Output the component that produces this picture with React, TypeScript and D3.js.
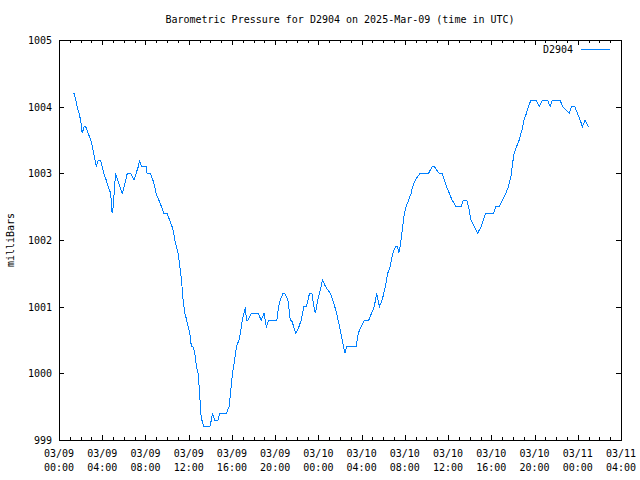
import React from "react";
import * as d3 from "d3";

const TITLE = "Barometric Pressure for D2904 on 2025-Mar-09 (time in UTC)";
const SERIES = "D2904";
const Y_LABEL = "milliBars";
const START = "2025-03-09T00:00:00Z";
const END = "2025-03-11T04:00:00Z";
const Y_TICKS = [999, 1000, 1001, 1002, 1003, 1004, 1005];

// minutes after 2025-03-09 00:00 UTC
const minutes = [
  83, 93, 101, 111, 120, 129, 139, 148, 162, 176,
  185, 200, 207, 218, 231, 240, 249, 262, 273, 287,
  295, 301, 314, 325, 338, 351, 362, 379, 397, 416,
  428, 440, 447, 458, 471, 484, 489, 508, 521, 532,
  539, 554, 569, 582, 600, 614, 628, 637, 643, 652,
  661, 671, 680, 689, 698, 704, 717, 726, 735, 744,
  754, 763, 772, 781, 787, 793, 804, 837, 846, 852,
  865, 883, 892, 929, 944, 952, 963, 975, 985, 999,
  1007, 1018, 1027, 1035, 1040, 1049, 1068, 1105, 1123, 1138,
  1151, 1165, 1210, 1219, 1229, 1243, 1254, 1271, 1284, 1291,
  1315, 1332, 1345, 1359, 1373, 1391, 1404, 1415, 1423, 1437,
  1446, 1463, 1480, 1506, 1520, 1542, 1557, 1572, 1587, 1598,
  1650, 1661, 1678, 1696, 1720, 1735, 1750, 1764, 1779, 1794,
  1812, 1825, 1838, 1853, 1868, 1880, 1886, 1894, 1899, 1908,
  1917, 1927, 1941, 1955, 1963, 1978, 2004, 2052, 2071, 2084,
  2096, 2111, 2126, 2139, 2152, 2167, 2182, 2204, 2232, 2244,
  2263, 2274, 2287, 2305, 2324, 2343, 2355, 2369, 2412, 2425,
  2444, 2461, 2481, 2495, 2509, 2518, 2527, 2540, 2555, 2570,
  2582, 2595, 2606, 2620, 2647, 2666, 2684, 2712, 2727, 2739,
  2782, 2795, 2814, 2832, 2845, 2863, 2878, 2893, 2906, 2921,
  2939,
];

const pressure = [
  1004.2, 1004.1, 1004.0, 1003.9, 1003.8, 1003.6, 1003.7, 1003.7, 1003.6, 1003.5,
  1003.4, 1003.2, 1003.1, 1003.2, 1003.2, 1003.1, 1003.0, 1002.9, 1002.8, 1002.7,
  1002.4, 1002.5, 1003.0, 1002.9, 1002.8, 1002.7, 1002.8, 1003.0, 1003.0, 1002.9,
  1003.0, 1003.1, 1003.2, 1003.1, 1003.1, 1003.1, 1003.0, 1003.0, 1002.9, 1002.8,
  1002.7, 1002.6, 1002.5, 1002.4, 1002.4, 1002.3, 1002.2, 1002.1, 1002.0, 1001.9,
  1001.8, 1001.6, 1001.4, 1001.1, 1000.9, 1000.85, 1000.7, 1000.6, 1000.4, 1000.4,
  1000.3, 1000.1, 1000.0, 999.7, 999.4, 999.3, 999.2, 999.2, 999.3, 999.4,
  999.3, 999.3, 999.4, 999.4, 999.5, 999.7, 1000.0, 1000.2, 1000.4, 1000.5,
  1000.6, 1000.8, 1000.9, 1001.0, 1000.8, 1000.8, 1000.9, 1000.9, 1000.8, 1000.9,
  1000.7, 1000.8, 1000.8, 1001.0, 1001.1, 1001.2, 1001.2, 1001.1, 1000.8, 1000.8,
  1000.6, 1000.7, 1000.8, 1001.0, 1001.0, 1001.2, 1001.2, 1001.0, 1000.9, 1001.1,
  1001.2, 1001.4, 1001.3, 1001.2, 1001.1, 1000.9, 1000.7, 1000.5, 1000.3, 1000.4,
  1000.4, 1000.6, 1000.7, 1000.8, 1000.8, 1000.9, 1001.0, 1001.2, 1001.0, 1001.1,
  1001.3, 1001.5, 1001.6, 1001.8, 1001.9, 1001.9, 1001.8, 1001.9, 1002.0, 1002.2,
  1002.4, 1002.5, 1002.6, 1002.7, 1002.8, 1002.9, 1003.0, 1003.0, 1003.1, 1003.1,
  1003.05, 1003.0, 1003.0, 1002.9, 1002.8, 1002.7, 1002.6, 1002.5, 1002.5, 1002.6,
  1002.6, 1002.5, 1002.3, 1002.2, 1002.1, 1002.2, 1002.3, 1002.4, 1002.4, 1002.5,
  1002.5, 1002.6, 1002.7, 1002.8, 1002.95, 1003.15, 1003.3, 1003.4, 1003.5, 1003.65,
  1003.8, 1003.9, 1004.0, 1004.1, 1004.1, 1004.0, 1004.1, 1004.1, 1004.0, 1004.1,
  1004.1, 1004.0, 1003.95, 1003.9, 1004.0, 1004.0, 1003.9, 1003.8, 1003.7, 1003.8,
  1003.7,
];

const W = 640;
const H = 480;
const M = { left: 59, right: 621, top: 40, bottom: 440 };
const FONT = "'DejaVu Sans Mono', 'Liberation Mono', monospace";
const LINE_COLOR = "#0080ff";

export default function App() {
  const start = new Date(START);
  const end = new Date(END);
  const x = d3.scaleUtc().domain([start, end]).range([M.left, M.right]);
  const y = d3.scaleLinear().domain([999, 1005]).range([M.bottom, M.top]);

  const data = minutes.map((m, i) => ({
    t: new Date(start.getTime() + m * 60000),
    v: pressure[i],
  }));
  const line = d3
    .line<{ t: Date; v: number }>()
    .x((d) => x(d.t))
    .y((d) => y(d.v));

  const majorX = d3.utcHour.every(4)!.range(start, new Date(end.getTime() + 1));
  const minorX = d3.utcHour.range(start, new Date(end.getTime() + 1));
  const fmtDate = d3.utcFormat("%m/%d");
  const fmtTime = d3.utcFormat("%H:%M");

  const px = (v: number) => Math.round(v) + 0.5;
  const MAJ = 5;
  const MIN = 3;

  return (
    <svg
      width={W}
      height={H}
      style={{ position: "absolute", left: 0, top: 0, background: "#fff" }}
      fontFamily={FONT}
      fontSize={10}
    >
      <rect x={0} y={0} width={W} height={H} fill="#fff" />
      <text x={(M.left + M.right) / 2} y={23} textAnchor="middle" fill="#000">
        {TITLE}
      </text>

      {minorX.map((d, i) => (
        <g key={"mx" + i} stroke="#000" strokeWidth={1} shapeRendering="crispEdges">
          <line x1={px(x(d))} x2={px(x(d))} y1={M.bottom} y2={M.bottom - MIN} />
          <line x1={px(x(d))} x2={px(x(d))} y1={M.top} y2={M.top + MIN} />
        </g>
      ))}
      {majorX.map((d, i) => (
        <g key={"Mx" + i}>
          <g stroke="#000" shapeRendering="crispEdges">
            <line x1={px(x(d))} x2={px(x(d))} y1={M.bottom} y2={M.bottom - MAJ} />
            <line x1={px(x(d))} x2={px(x(d))} y1={M.top} y2={M.top + MAJ} />
          </g>
          <text x={x(d)} y={457} textAnchor="middle" fill="#000">
            {fmtDate(d)}
          </text>
          <text x={x(d)} y={471} textAnchor="middle" fill="#000">
            {fmtTime(d)}
          </text>
        </g>
      ))}

      {Y_TICKS.map((v) => (
        <g key={"y" + v}>
          <g stroke="#000" shapeRendering="crispEdges">
            <line x1={M.left} x2={M.left + MAJ} y1={px(y(v))} y2={px(y(v))} />
            <line x1={M.right - MAJ} x2={M.right} y1={px(y(v))} y2={px(y(v))} />
          </g>
          <text x={52} y={y(v) + 4} textAnchor="end" fill="#000">
            {v}
          </text>
        </g>
      ))}

      <text
        transform={`translate(14,${(M.top + M.bottom) / 2}) rotate(-90)`}
        textAnchor="middle"
        fill="#000"
      >
        {Y_LABEL}
      </text>

      <path
        d={line(data) ?? ""}
        fill="none"
        stroke={LINE_COLOR}
        strokeWidth={1}
        shapeRendering="crispEdges"
      />

      <rect
        x={M.left + 0.5}
        y={M.top + 0.5}
        width={M.right - M.left}
        height={M.bottom - M.top}
        fill="none"
        stroke="#000"
        strokeWidth={1}
        shapeRendering="crispEdges"
      />

      <text x={573} y={53} textAnchor="end" fill="#000">
        {SERIES}
      </text>
      <line
        x1={581}
        x2={610}
        y1={49.5}
        y2={49.5}
        stroke={LINE_COLOR}
        strokeWidth={1}
        shapeRendering="crispEdges"
      />
    </svg>
  );
}
